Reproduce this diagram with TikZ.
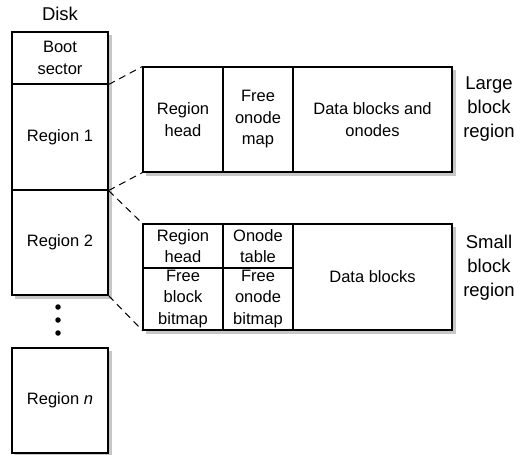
\documentclass[tikz,border=0pt]{standalone}
\usepackage{fontspec}
\setmainfont{Liberation Sans}
\begin{document}
\begin{tikzpicture}[x=1pt,y=-1pt,
  cell/.style={draw, line width=1.1pt, inner sep=0pt, align=center, fill=white,
    font=\fontsize{16.5}{21.5}\selectfont},
  side/.style={align=center, inner sep=0pt, font=\fontsize{18.5}{24}\selectfont},
  link/.style={dash pattern=on 7pt off 5pt, line width=1pt},
  shade/.style={fill=black!22, draw=none},
  dot/.style={circle, fill=black, inner sep=0pt, minimum size=5.5pt}]
\useasboundingbox (0,0) rectangle (520,455);
% shadows
\fill[shade] (15,35) rectangle (112,299);
\fill[shade] (15,351) rectangle (112,457);
\fill[shade] (146,70) rectangle (456,176);
\fill[shade] (146,227) rectangle (456,334);
% disk column
\node[side] (disk) at (60,14) {Disk};
\node[cell, minimum width=96pt, minimum height=52pt] (boot) at (60,58) {Boot\\sector};
\node[cell, minimum width=96pt, minimum height=106pt] (r1) at (60,137) {Region 1};
\node[cell, minimum width=96pt, minimum height=105pt] (r2) at (60,242.5) {Region 2};
\node[dot] (d1) at (58,307) {};
\node[dot] (d2) at (58,320) {};
\node[dot] (d3) at (58,333) {};
\node[cell, minimum width=96pt, minimum height=105pt] (rn) at (60,400.5) {Region \textit{n}};
% large block region
\node[cell, minimum width=80pt, minimum height=105pt] (lh) at (183,119.5) {Region\\head};
\node[cell, minimum width=70pt, minimum height=105pt] (lf) at (258,119.5) {Free\\onode\\map};
\node[cell, minimum width=159pt, minimum height=105pt] (ld) at (372.5,119.5) {Data blocks and\\onodes};
\node[side] (llab) at (489,109) {Large\\block\\region};
% small block region
\node[cell, minimum width=80pt, minimum height=44pt] (sh) at (183,246) {Region\\head};
\node[cell, minimum width=70pt, minimum height=44pt] (st) at (258,246) {Onode\\table};
\node[cell, minimum width=80pt, minimum height=62pt] (sfb) at (183,299) {Free\\block\\bitmap};
\node[cell, minimum width=70pt, minimum height=62pt] (sfo) at (258,299) {Free\\onode\\bitmap};
\node[cell, minimum width=159pt, minimum height=106pt] (sd) at (372.5,277) {Data blocks};
\node[side] (slab) at (489,268) {Small\\block\\region};
% connectors
\draw[link] (boot.south east) -- (lh.north west);
\draw[link] (r1.south east) -- (lh.south west);
\draw[link] (r1.south east) -- (sh.north west);
\draw[link] (r2.south east) -- (sfb.south west);
\end{tikzpicture}
\end{document}
